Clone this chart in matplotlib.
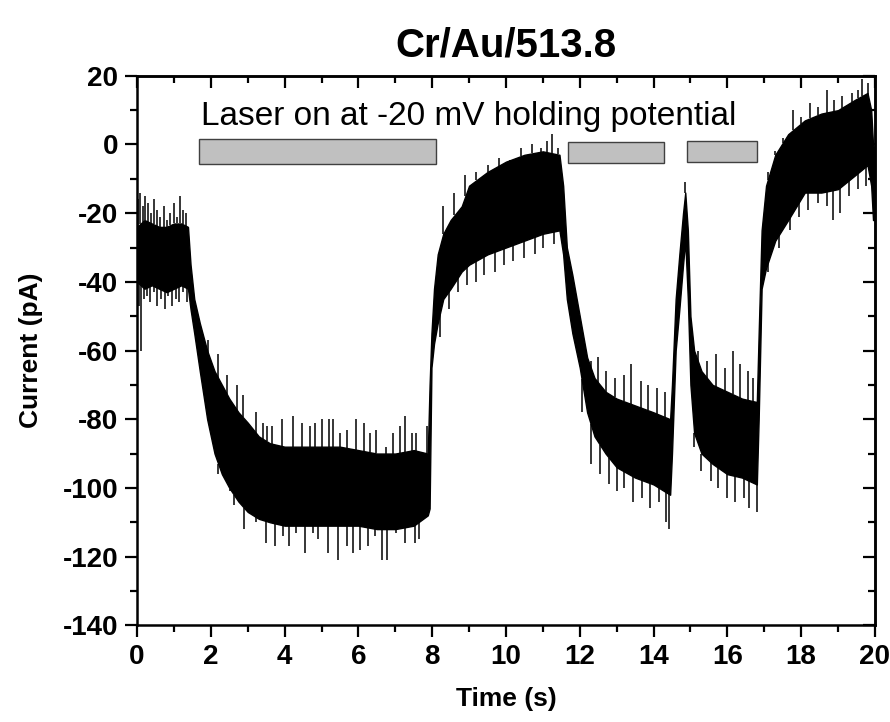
import matplotlib
matplotlib.use('Agg')
import matplotlib.pyplot as plt
import numpy as np
from matplotlib.patches import Rectangle
from matplotlib.ticker import MultipleLocator

plt.rcParams['font.family'] = ['Liberation Sans', 'DejaVu Sans']
plt.rcParams['axes.unicode_minus'] = False

# dense core of the noisy current trace (pA)
t_core = [0.00, 0.20, 0.40, 0.60, 0.80, 1.00, 1.20, 1.38, 1.45, 1.55, 1.70,
          1.90, 2.10, 2.30, 2.50, 2.75, 3.00, 3.30, 3.60, 4.00, 4.50, 5.00,
          5.50, 6.00, 6.50, 7.00, 7.50, 7.88, 7.93, 7.98, 8.05, 8.15, 8.30,
          8.50, 8.80, 9.00, 9.50, 10.00, 10.50, 11.00, 11.45, 11.55, 11.65,
          11.80, 12.00, 12.20, 12.40, 12.70, 13.00, 13.50, 14.00, 14.45,
          14.50, 14.60, 14.70, 14.80, 14.86, 14.93, 15.00, 15.10, 15.30,
          15.60, 16.00, 16.40, 16.80, 16.85, 16.93, 17.05, 17.30, 17.65,
          18.10, 18.55, 19.00, 19.46, 19.80, 19.90, 19.95, 20.00]
core_hi = [-24, -22, -23, -24, -24, -23, -23, -24, -35, -45, -52,
           -60, -66, -70, -74, -78, -81, -85, -87, -88, -88, -88,
           -88, -89, -90, -90, -89, -90, -70, -55, -42, -32, -26,
           -22, -18, -12, -8, -5, -3, -2, -3, -12, -30,
           -38, -50, -62, -68, -72, -74, -76, -78, -80,
           -70, -45, -32, -20, -14, -25, -50, -60, -66,
           -70, -72, -74, -75, -55, -25, -12, -3, 3,
           7, 9, 10, 13, 15, 10, 0, -2]
core_lo = [-40, -42, -41, -42, -43, -42, -41, -42, -48, -55, -66,
           -80, -90, -96, -100, -104, -107, -109, -110, -111, -111, -111,
           -111, -111, -112, -112, -111, -108, -106, -65, -58, -52, -45,
           -42, -37, -35, -32, -30, -28, -26, -25, -32, -45,
           -55, -65, -78, -85, -90, -94, -97, -99, -102,
           -90, -60, -48, -35, -28, -45, -70, -84, -90,
           -93, -96, -97, -99, -80, -42, -36, -28, -22,
           -14, -14, -13, -9, -6, -12, -22, -22]

# spikes sticking out above the core
up_t = [0.02, 0.08, 0.15, 0.22, 0.30, 0.38, 0.45, 0.55, 0.62, 0.72, 0.80,
        0.90, 1.00, 1.08, 1.17, 1.25, 1.33, 1.93, 2.20, 2.43, 2.70, 2.87,
        3.22, 3.42, 3.51, 3.67, 3.92, 4.23, 4.46, 4.69, 4.82, 5.00, 5.21,
        5.30, 5.50, 5.70, 5.93, 6.15, 6.31, 6.47, 6.76, 6.94, 7.12, 7.26,
        7.44, 7.57, 7.85, 8.30, 8.60, 8.90, 9.20, 9.50, 9.80, 10.10, 10.40,
        10.70, 10.95, 11.10, 11.24, 11.40, 12.30, 12.50, 12.70, 12.95, 13.20,
        13.40, 13.65, 13.85, 14.10, 14.30, 14.86, 15.20, 15.45, 15.70, 15.95,
        16.15, 16.35, 16.55, 16.70, 17.10, 17.30, 17.50, 17.79, 18.00, 18.25,
        18.45, 18.69, 18.90, 19.10, 19.37, 19.55, 19.64, 19.82]
up_v = [-16, -14, -18, -15, -17, -20, -16, -19, -21, -18, -22,
        -20, -17, -21, -15, -19, -20, -57, -61, -67, -70, -73,
        -78, -81, -82, -82, -80, -79, -81, -82, -81, -80, -80,
        -80, -84, -83, -80, -81, -84, -83, -88, -84, -82, -79,
        -84, -84, -82, -18, -14, -9, -8, -6, -4, -5, -1,
        0, -1, 1, 3, -1, -63, -62, -66, -68, -67,
        -64, -69, -70, -71, -72, -11, -60, -63, -61, -65,
        -60, -64, -66, -68, -8, -2, 2, 10, 8, 12,
        11, 16, 13, 14, 15, 16, 19, 18]

# spikes sticking out below the core
lo_t = [0.05, 0.10, 0.18, 0.27, 0.35, 0.45, 0.55, 0.65, 0.75, 0.85, 0.95,
        1.05, 1.15, 1.25, 1.35, 2.20, 2.52, 2.63, 2.90, 3.23, 3.49, 3.74,
        3.96, 4.12, 4.32, 4.55, 4.78, 4.91, 5.18, 5.45, 5.70, 5.86, 6.04,
        6.27, 6.45, 6.63, 6.78, 7.03, 7.26, 7.53, 7.65, 8.20, 8.45, 8.70,
        8.95, 9.20, 9.40, 9.70, 9.95, 10.20, 10.50, 10.80, 11.00, 11.30,
        12.05, 12.30, 12.55, 12.80, 13.00, 13.20, 13.45, 13.70, 13.90, 14.15,
        14.35, 14.42, 15.10, 15.30, 15.55, 15.75, 16.00, 16.20, 16.45, 16.60,
        16.80, 17.10, 17.40, 17.70, 17.95, 18.20, 18.45, 18.70, 18.86, 19.05,
        19.30, 19.55, 19.75]
lo_v = [-47, -60, -45, -44, -46, -43, -47, -45, -48, -44, -47,
        -45, -46, -43, -46, -96, -101, -105, -112, -110, -116, -117,
        -114, -117, -113, -119, -113, -115, -119, -121, -117, -119, -118,
        -117, -114, -121, -121, -113, -116, -116, -115, -56, -48, -43,
        -41, -40, -38, -37, -35, -34, -33, -32, -30, -29,
        -78, -93, -96, -99, -101, -100, -104, -103, -106, -104,
        -110, -112, -88, -95, -98, -100, -103, -104, -103, -106,
        -107, -37, -30, -25, -21, -19, -17, -18, -22, -20,
        -15, -13, -12]

# laser-on periods (start, end) in s and bar heights in pA
laser_on = [(1.68, 8.10), (11.68, 14.28), (14.90, 16.80)]
bar_y = [(-5.7, 1.6), (-5.4, 0.8), (-5.1, 1.1)]

fig = plt.figure(figsize=(8.9, 7.22), dpi=100)
ax = fig.add_axes([0.154, 0.134, 0.829, 0.761])

ax.fill_between(t_core, core_lo, core_hi, color='black', lw=1.0, edgecolor='black')
ax.vlines(up_t, np.interp(up_t, t_core, core_hi), up_v, color='black', lw=1.1)
ax.vlines(lo_t, lo_v, np.interp(lo_t, t_core, core_lo), color='black', lw=1.1)

for (x0, x1), (y0, y1) in zip(laser_on, bar_y):
    ax.add_patch(Rectangle((x0, y0), x1 - x0, y1 - y0, facecolor='#c0c0c0',
                           edgecolor='#404040', lw=1.0, zorder=3))

ax.text(1.73, 5.7, 'Laser on at -20 mV holding potential', fontsize=24,
        va='baseline', ha='left')

ax.set_xlim(0, 20)
ax.set_ylim(-140, 20)
ax.xaxis.set_major_locator(MultipleLocator(2))
ax.xaxis.set_minor_locator(MultipleLocator(1))
ax.yaxis.set_major_locator(MultipleLocator(20))
ax.yaxis.set_minor_locator(MultipleLocator(10))
ax.tick_params(which='major', direction='out', length=8.5, width=1.6,
               labelsize=20, pad=5)
ax.tick_params(which='minor', direction='out', length=5, width=1.6)
for lab in ax.get_xticklabels() + ax.get_yticklabels():
    lab.set_fontweight('bold')
for sp in ax.spines.values():
    sp.set_linewidth(1.8)

top = ax.secondary_xaxis('top')
top.xaxis.set_major_locator(MultipleLocator(2))
top.xaxis.set_minor_locator(MultipleLocator(1))
top.tick_params(which='major', direction='in', length=8.5, width=1.6, labeltop=False)
top.tick_params(which='minor', direction='in', length=5, width=1.6)
top.spines['top'].set_linewidth(1.8)
right = ax.secondary_yaxis('right')
right.yaxis.set_major_locator(MultipleLocator(20))
right.yaxis.set_minor_locator(MultipleLocator(10))
right.tick_params(which='major', direction='in', length=8.5, width=1.6, labelright=False)
right.tick_params(which='minor', direction='in', length=5, width=1.6)
right.spines['right'].set_linewidth(1.8)

ax.set_xlabel('Time (s)', fontsize=19, fontweight='bold', labelpad=12)
ax.set_ylabel('Current (pA)', fontsize=19, fontweight='bold', labelpad=14)
ax.set_title('Cr/Au/513.8', fontsize=29, fontweight='bold', pad=14)

fig.savefig('out.png', dpi=100)
